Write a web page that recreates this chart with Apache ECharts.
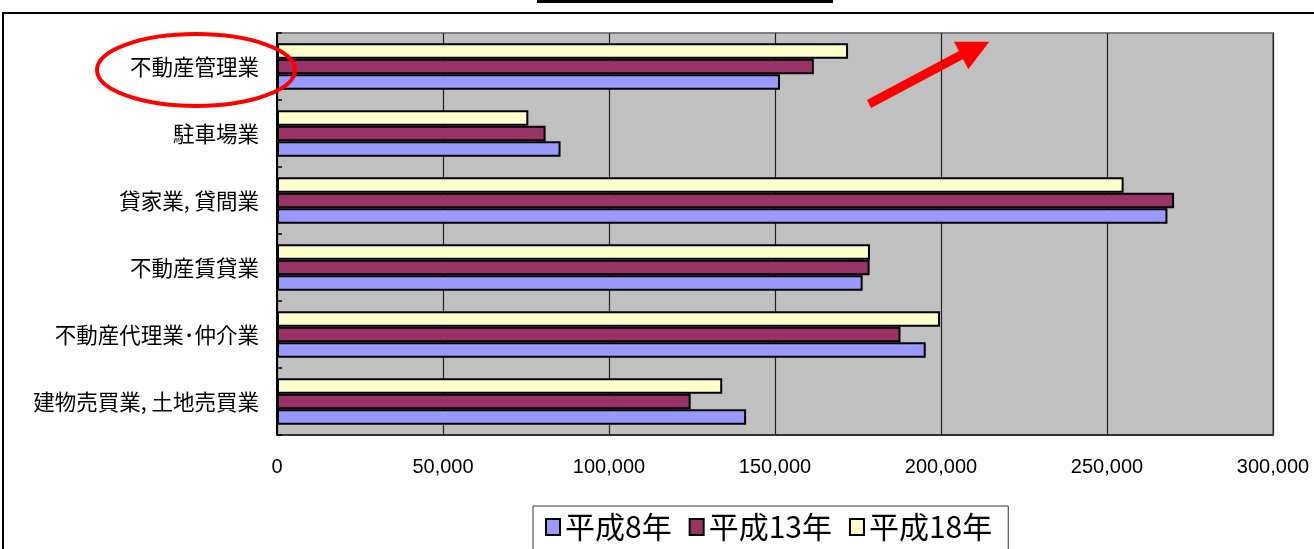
<!DOCTYPE html>
<html lang="ja">
<head>
<meta charset="utf-8">
<title>不動産業 業種別 推移</title>
<script src="https://cdn.jsdelivr.net/npm/echarts@6/dist/echarts.min.js"></script>
<style>
  html, body { margin: 0; padding: 0; background: #fff; }
  #chart { width: 1314px; height: 549px; }
</style>
</head>
<body>
<div id="chart"></div>
<script>
// Categories, listed bottom to top as on the value axis
const categories = [
  '建物売買業, 土地売買業',
  '不動産代理業･仲介業',
  '不動産賃貸業',
  '貸家業, 貸間業',
  '駐車場業',
  '不動産管理業'
];

// Values per survey year (same order as categories)
const h8 = [141300, 195400, 176400, 268200, 85400, 151500];
const h13 = [124600, 187800, 178500, 270200, 80900, 161700];
const h18 = [134100, 199700, 178600, 255000, 75700, 172000];

const seriesNames = ['平成8年', '平成13年', '平成18年'];
const xTicks = [0, 50000, 100000, 150000, 200000, 250000, 300000];

const colors = { '平成8年': '#9999FF', '平成13年': '#993366', '平成18年': '#FFFFCC' };
const valuesByName = { '平成8年': h8, '平成13年': h13, '平成18年': h18 };

const fmt = v => String(v).replace(/\B(?=(\d{3})+(?!\d))/g, ',');

const chart = echarts.init(document.getElementById('chart'), null, { renderer: 'canvas' });

// Within each group the newest year sits on top
const drawOrder = ['平成18年', '平成13年', '平成8年'];

const option = {
  backgroundColor: '#ffffff',
  animation: false,
  grid: {
    left: 277, right: 41, top: 33, bottom: 114,
    show: true,
    backgroundColor: '#C0C0C0',
    borderColor: '#808080',
    borderWidth: 2
  },
  legend: {
    data: seriesNames,
    left: 533, top: 506,
    orient: 'horizontal',
    icon: 'rect',
    padding: [6, 16, 24, 12],
    itemGap: 17,
    itemWidth: 14,
    itemHeight: 16,
    borderColor: '#333',
    borderWidth: 1,
    backgroundColor: '#fff',
    textStyle: { fontFamily: 'Noto Sans CJK JP', fontSize: 30, color: '#000' }
  },
  xAxis: {
    type: 'value',
    min: xTicks[0],
    max: xTicks[xTicks.length - 1],
    interval: 50000,
    axisLine: { show: true, lineStyle: { color: '#333', width: 2 } },
    axisTick: { show: false },
    axisLabel: {
      formatter: v => fmt(v),
      fontFamily: 'Liberation Sans',
      fontSize: 20,
      color: '#000',
      margin: 22
    },
    splitLine: { show: true, lineStyle: { color: '#222', width: 1.2 } }
  },
  yAxis: {
    type: 'category',
    data: categories,
    axisLine: { show: true, lineStyle: { color: '#000', width: 2 } },
    axisTick: { show: true, inside: true, length: 5, lineStyle: { color: '#000', width: 1.5 } },
    axisLabel: {
      fontFamily: 'Noto Sans CJK JP',
      fontSize: 21.5,
      color: '#000',
      margin: 18
    },
    splitLine: { show: false }
  },
  series: drawOrder.map(name => ({
    name: name,
    type: 'bar',
    data: valuesByName[name],
    barWidth: 15.5,
    barGap: '0%',
    itemStyle: { color: colors[name], borderColor: '#000', borderWidth: 2 }
  })),
  graphic: [
    // outer frame (left and top edges)
    {
      type: 'polyline', silent: true, z: 100,
      shape: { points: [[3, 560], [3, 13], [1320, 13]] },
      style: { stroke: '#000', lineWidth: 2, fill: null }
    },
    // lower edge of the heading box
    {
      type: 'rect', silent: true, z: 100,
      shape: { x: 537, y: 0, width: 296, height: 3 },
      style: { fill: '#000' }
    },
    // highlight ring around 不動産管理業
    {
      type: 'ellipse', silent: true, z: 100,
      shape: { cx: 196, cy: 70, rx: 99, ry: 36 },
      style: { stroke: '#FF0000', lineWidth: 4, fill: null }
    },
    // upward trend arrow
    {
      type: 'line', silent: true, z: 100,
      shape: { x1: 869, y1: 104, x2: 963, y2: 54 },
      style: { stroke: '#FF0000', lineWidth: 9 }
    },
    {
      type: 'polygon', silent: true, z: 100,
      shape: { points: [[954, 41.7], [989.3, 41.7], [968.3, 69.3]] },
      style: { fill: '#FF0000' }
    }
  ]
};

chart.setOption(option);
</script>
</body>
</html>
